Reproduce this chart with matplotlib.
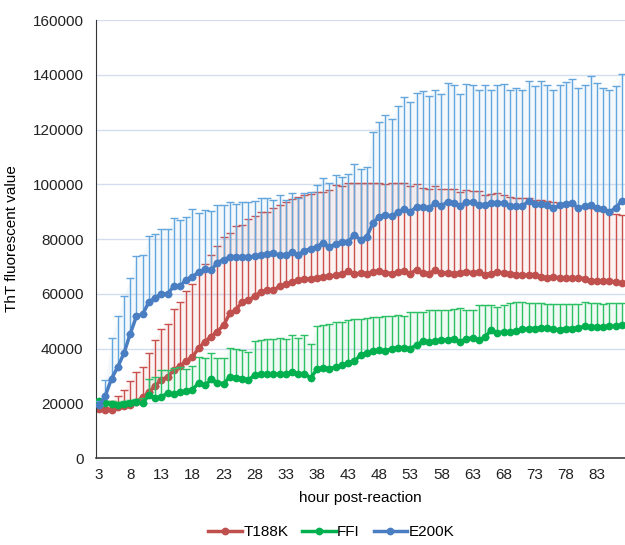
#!/usr/bin/python3

#
# plot.py: ThT fluorescence over time for three prion variants,
# mean with upper error bars, one reading per hour (3 h .. 87 h).
#

import numpy as np
import matplotlib
matplotlib.use('Agg')
import matplotlib.pyplot as plt
from matplotlib.lines import Line2D

# hours post-reaction (one category per hour)
hours = list(range(3, 88))
xticks = list(range(3, 84, 5))

# T188K mean / error bar top
t188k = [18000, 17600, 17600, 18800, 19100, 19500, 20600, 22200, 24000, 26400,
         28500, 29700, 32000, 33700, 35300, 37000, 40100, 42500, 44300, 46200,
         48500, 52800, 54200, 57000, 57600, 59100, 60700, 61300, 61200, 62800,
         63500, 64200, 64900, 65300, 65500, 65700, 66100, 66400, 66800, 67100,
         68300, 67100, 67600, 67400, 68000, 68200, 67700, 67400, 68000, 68300,
         67400, 68800, 67700, 67400, 68600, 67600, 67600, 67400, 67600, 68000,
         67700, 68000, 67000, 67400, 68000, 67600, 67400, 67000, 66800, 66800,
         66800, 66100, 65900, 66100, 65900, 65800, 65800, 65900, 65500, 64700,
         64700, 64700, 64700, 64300, 63800]
t188k_top = [18500, 18800, 21000, 22700, 25000, 28300, 31500, 33100, 38300, 43200,
             47200, 49000, 54600, 57000, 61100, 63400, 67500, 71000, 74000, 77600,
             80800, 82300, 84700, 85000, 87400, 88300, 89700, 90000, 91400, 92300,
             93600, 94500, 95500, 96200, 96600, 97000, 97300, 97800, 99700, 99400,
             100500, 100500, 100300, 100300, 100300, 100600, 100000, 100300, 100500, 100300,
             99400, 100000, 98500, 98200, 99300, 98200, 98200, 98200, 97200, 97800,
             97500, 97500, 96200, 96600, 96800, 96000, 95400, 95100, 95100, 94800,
             94400, 94200, 93800, 93600, 93000, 92800, 92500, 92000, 91700, 91200,
             90800, 90300, 89700, 89200, 88600]

# FFI mean / error bar top
ffi = [21000, 20100, 19800, 19500, 19800, 20200, 20400, 20100, 22900, 21900,
       22300, 23700, 23500, 24100, 24300, 25000, 27400, 26500, 28700, 27500,
       27200, 29600, 29400, 29000, 28600, 30200, 30600, 30600, 30600, 30800,
       30800, 31400, 30600, 30800, 29300, 32400, 33000, 32600, 33200, 33900,
       34700, 35400, 37500, 38400, 39100, 39300, 39000, 40000, 40300, 40300,
       40000, 41200, 42600, 42400, 42600, 43000, 43200, 43600, 42400, 43600,
       43800, 43000, 44200, 46700, 45800, 46000, 46000, 46400, 47000, 47300,
       47300, 47600, 47500, 47000, 46900, 47300, 47300, 47500, 48100, 47900,
       47900, 47900, 48100, 48100, 48500]
ffi_top = [21500, 21000, 20800, 20500, 20800, 21200, 21500, 22000, 29000, 29500,
           32300, 32000, 32800, 33200, 32600, 33500, 36900, 36500, 38400, 36500,
           36500, 40300, 39700, 39300, 38700, 42600, 43200, 43300, 43300, 44000,
           43300, 44800, 44000, 44800, 41800, 48100, 48500, 49100, 49700, 49700,
           50300, 50900, 50900, 51300, 51500, 51500, 51800, 51800, 52100, 51800,
           53300, 53300, 53300, 54000, 54200, 54000, 54000, 54300, 54800, 54200,
           54000, 55800, 56000, 55800, 55200, 55800, 56600, 57000, 57000, 56600,
           56600, 56600, 56400, 56400, 56400, 56400, 56200, 56400, 57000, 56800,
           56600, 56400, 56600, 56600, 56600]

# E200K mean / error bar top
e200k = [19200, 22800, 29000, 33300, 38300, 45400, 51800, 52500, 57000, 58500,
         60000, 60000, 62700, 62700, 65200, 66300, 67800, 69000, 68600, 71400,
         72500, 73300, 73300, 73400, 73400, 73700, 74100, 74400, 74800, 74100,
         74100, 75100, 74300, 75600, 76500, 77200, 78600, 77000, 78300, 78900,
         78900, 81500, 79700, 80800, 85900, 88100, 88900, 88300, 89700, 91000,
         89900, 91700, 91600, 91300, 93000, 92000, 93700, 93200, 92000, 93400,
         93400, 92300, 92600, 93100, 93300, 93000, 92200, 91900, 92000, 93800,
         92900, 92900, 92400, 91300, 92300, 92800, 93000, 91300, 91900, 92400,
         91400, 91000, 89900, 91300, 94000]
e200k_top = [21000, 28500, 43800, 51700, 59300, 65800, 73700, 74200, 81000, 81700,
             83800, 83800, 87800, 87100, 88100, 90900, 89400, 90700, 90400, 92300,
             92500, 93400, 92700, 93600, 93600, 93900, 94800, 94800, 94200, 96000,
             94400, 96800, 94800, 96800, 97200, 99900, 102300, 100300, 103300, 102700,
             103600, 107300, 105500, 106300, 119200, 122800, 125300, 124000, 128500, 131700,
             129900, 133200, 134100, 132300, 134600, 132800, 137000, 136200, 132800, 136600,
             136200, 134400, 136200, 134600, 136200, 136600, 134600, 135000, 134600, 137900,
             135900, 137700, 136200, 134600, 136200, 137400, 138400, 135200, 136200, 139500,
             137000, 135200, 134600, 135900, 140200]

# name, mean, top, line colour, error bar colour
SERIES = [
  ('T188K', t188k, t188k_top, '#C0504D', '#C9504C'),
  ('FFI', ffi, ffi_top, '#00B04F', '#2CC065'),
  ('E200K', e200k, e200k_top, '#4A7EC2', '#63A6DE'),
]

plt.rcParams['font.family'] = ['Liberation Sans', 'DejaVu Sans']

fig = plt.figure(figsize=(6.25, 5.45), dpi=100)
ax = fig.add_axes([0.1536, 0.1596, 0.8464, 0.8037])

handles = []
for i, (name, mean, top, color, ecolor) in enumerate(SERIES):
  mean = np.array(mean)
  top = np.array(top)
  err = [np.zeros_like(mean), top - mean]

  # soft glow between mean and error top
  ax.fill_between(hours, mean, top, color=ecolor, alpha=0.07, lw=0, zorder=2 + i)
  ax.errorbar(hours, mean, yerr=err, fmt='none', ecolor=ecolor,
              elinewidth=1.0, capsize=2.6, capthick=1.0, zorder=2 + i)
  ax.plot(hours, mean, '-o', color=color, lw=2.5, markersize=5.6,
          markeredgewidth=0, zorder=2.5 + i)
  handles.append(Line2D([], [], color=color, lw=2.5, marker='o',
                        markersize=5.6, markeredgewidth=0, label=name))

# axes
ax.set_xlim(2.5, 87.5)
ax.set_ylim(0, 160000)
ax.set_yticks(range(0, 160001, 20000))
ax.set_xticks(xticks)
ax.tick_params(axis='both', length=0, labelsize=11, colors='#222222')
ax.tick_params(axis='x', pad=7)
ax.tick_params(axis='y', pad=9)
ax.grid(axis='y', color='#D3DFEF', lw=1.0)
ax.set_axisbelow(True)
for side in ('top', 'right'):
  ax.spines[side].set_visible(False)
ax.spines['left'].set_color('#333333')
ax.spines['bottom'].set_color('#404040')
ax.spines['bottom'].set_linewidth(1.2)

ax.set_xlabel('hour post-reaction', fontsize=11, labelpad=7)
ax.set_ylabel('ThT fluorescent value', fontsize=11, labelpad=10)

fig.legend(handles=handles, loc='center', bbox_to_anchor=(0.53, 0.024),
           ncol=3, frameon=False, fontsize=11, handlelength=2.2,
           handletextpad=0.1, columnspacing=0.9)

plt.savefig('out.png', dpi=100)
